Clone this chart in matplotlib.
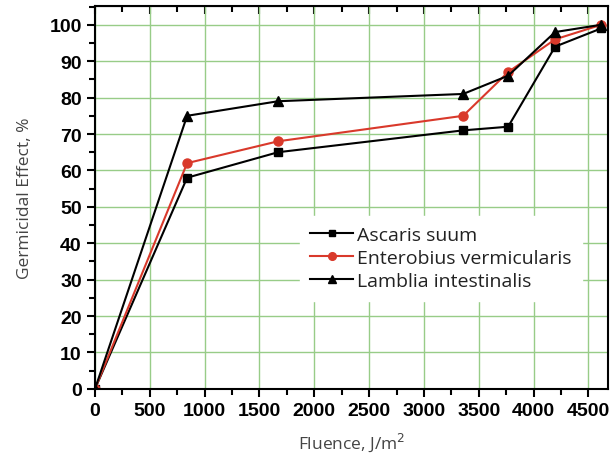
import numpy as np
import matplotlib
matplotlib.use('Agg')
import matplotlib.pyplot as plt
from matplotlib.ticker import MultipleLocator

# data
fluence = [0, 840, 1670, 3358, 3768, 4197, 4617]
ascaris = [0, 58, 65, 71, 72, 94, 99]
enterobius = [0, 62, 68, 75, 87, 96, 100]
lamblia = [0, 75, 79, 81, 86, 98, 100]
names = ['Ascaris suum', 'Enterobius vermicularis', 'Lamblia intestinalis']

red = '#d9392b'

fig = plt.figure(figsize=(6.13, 4.56), dpi=100)
ax = fig.add_axes([0.155, 0.145, 0.837, 0.84])

ax.plot(fluence, ascaris, color='black', lw=1.5, marker='s', ms=5.5, label=names[0])
ax.plot(fluence, enterobius, color=red, lw=1.5, marker='o', ms=6.5, label=names[1])
ax.plot(fluence, lamblia, color='black', lw=1.5, marker='^', ms=7, label=names[2])

ax.set_xlim(0, 4680)
ax.set_ylim(0, 105.2)
ax.xaxis.set_major_locator(MultipleLocator(500))
ax.xaxis.set_minor_locator(MultipleLocator(250))
ax.yaxis.set_major_locator(MultipleLocator(10))
ax.yaxis.set_minor_locator(MultipleLocator(5))
ax.grid(True, which='major', color='#98cc88', lw=1.0)
ax.set_axisbelow(True)

for s in ax.spines.values():
    s.set_linewidth(1.5)
ax.tick_params(which='both', direction='out', width=1.5, top=False, right=False)
ax.tick_params(which='major', length=6)
ax.tick_params(which='minor', length=4)
sec = ax.secondary_xaxis('top')
sec.xaxis.set_major_locator(MultipleLocator(500))
sec.xaxis.set_minor_locator(MultipleLocator(250))
sec.tick_params(which='both', direction='in', width=1.5, labeltop=False)
sec.tick_params(which='major', length=6)
sec.tick_params(which='minor', length=4)

for lab in ax.get_xticklabels() + ax.get_yticklabels():
    lab.set_fontfamily('Liberation Sans')
    lab.set_fontweight('bold')
    lab.set_fontsize(14)

ax.set_xlabel('Fluence, J/m$^2$', fontsize=12.5, color='#444444', family='Open Sans', labelpad=8)
ax.set_ylabel('Germicidal Effect, %', fontsize=12.5, color='#444444', family='Open Sans', labelpad=12)

leg = ax.legend(loc='lower left', bbox_to_anchor=(0.38, 0.205), frameon=True, fancybox=False,
                edgecolor='white', framealpha=1, handlelength=2.2, handletextpad=0.2,
                labelspacing=0.25, borderpad=0.55, markerscale=0.85,
                prop={'family': 'Open Sans', 'size': 14})
for t in leg.get_texts():
    t.set_color('#222222')

fig.savefig('out.png', dpi=100)
